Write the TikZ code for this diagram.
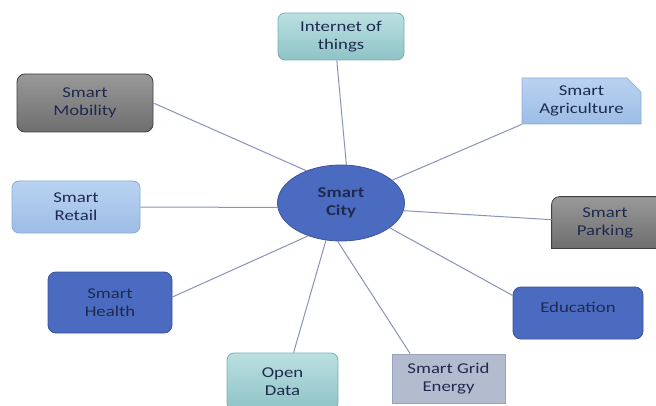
\documentclass[tikz,border=0pt]{standalone}
\usepackage{fontspec}
\setmainfont{Carlito}[FakeStretch=1.25]
\usetikzlibrary{shapes.geometric,shapes.misc,backgrounds}

\definecolor{cityblue}{HTML}{4A6BBF}
\definecolor{cityedge}{HTML}{3A5499}
\definecolor{tealtop}{HTML}{BBE0E1}
\definecolor{tealbot}{HTML}{8EC3C6}
\definecolor{tealedge}{HTML}{7AAFB2}
\definecolor{greytop}{HTML}{999999}
\definecolor{greybot}{HTML}{6E6E6E}
\definecolor{greyedge}{HTML}{3F3F3F}
\definecolor{skytop}{HTML}{B9D2F1}
\definecolor{skybot}{HTML}{9DBDE6}
\definecolor{skyedge}{HTML}{8AAED8}
\definecolor{slatefill}{HTML}{B3BCCF}
\definecolor{slateedge}{HTML}{98A2BC}
\definecolor{spokeclr}{HTML}{8A92B8}
\definecolor{ink}{HTML}{1F2A4F}

\begin{document}
\begin{tikzpicture}[
      x=1pt, y=1pt,
      base/.style  = {draw, line width=0.8pt, align=center, inner sep=2pt, text=ink,
                      font=\fontsize{15}{18}\selectfont},
      hub/.style   = {base, ellipse, fill=cityblue, draw=cityedge, inner sep=0pt},
      teal/.style  = {base, rounded corners=7pt, top color=tealtop, bottom color=tealbot, draw=tealedge},
      grey/.style  = {base, rounded corners=8pt, top color=greytop, bottom color=greybot, draw=greyedge},
      sky/.style   = {base, rounded corners=7pt, top color=skytop, bottom color=skybot, draw=skyedge},
      deep/.style  = {base, rounded corners=8pt, fill=cityblue, draw=cityedge},
      slate/.style = {base, fill=slatefill, draw=slateedge},
      spoke/.style = {draw=spokeclr, line width=1pt},
    ]
    \useasboundingbox (0,0) rectangle (656,405);

    %% ------------------------------------------------ hub
    \node[hub, minimum width=127, minimum height=76] (city) at (341,202)
      {\textbf{Smart}\\\textbf{City}};

    %% ------------------------------------------------ topics
    \node[teal, minimum width=126, minimum height=47] (iot) at (341,368.5) {Internet of\\things};
    \node[grey, minimum width=136, minimum height=58] (mob) at (85,302) {Smart\\Mobility};
    \node[base, chamfered rectangle, chamfered rectangle corners=north east,
          chamfered rectangle xsep=11pt, top color=skytop, bottom color=skybot, draw=skyedge,
          minimum width=119, minimum height=46] (agr) at (581.5,304) {Smart\\Agriculture};
    \node[sky, minimum width=128, minimum height=52] (ret) at (76,198) {Smart\\Retail};
    \node[deep, minimum width=124, minimum height=61] (hea) at (110,102.5) {Smart\\Health};
    \node[teal, minimum width=111, minimum height=57] (od) at (282.5,23.5) {Open\\Data};
    \node[slate, minimum width=113, minimum height=49] (grid) at (448.5,26.5) {Smart Grid\\Energy};
    \node[deep, minimum width=130, minimum height=52] (edu) at (578,92) {\raisebox{11pt}{Education}};
    \node[base, draw=none, minimum width=106, minimum height=51] (park) at (605,182.5) {Smart\\Parking};
    \begin{scope}[on background layer]
      \path[top color=greytop, bottom color=greybot, draw=greyedge, line width=0.8pt]
        (park.west) [rounded corners=8pt] -- (park.north west) -- (park.north)
        [sharp corners] -- (park.north east) -- (park.south east) -- (park.south west) -- cycle;
    \end{scope}

    %% ------------------------------------------------ spokes
    \foreach \a/\b in {82/iot.260, 137.5/mob.east, 24/agr.south west, 184.5/ret.east,
                       225/hea.5, 248/od.69, 265.6/grid.147, 333.4/edu.165, 353.8/park.177}
      \draw[spoke] (city.\a) -- (\b);
  \end{tikzpicture}
\end{document}
